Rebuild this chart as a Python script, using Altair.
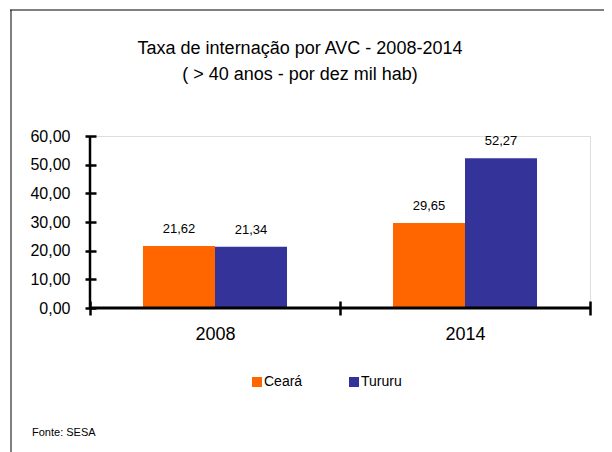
import altair as alt
import pandas as pd

years = ["2008", "2014"]
series = ["Ceará", "Tururu"]
ceara = [21.62, 29.65]
tururu = [21.34, 52.27]
colors = ["#FF6600", "#333399"]
y_ticks = [0, 10, 20, 30, 40, 50, 60]
title_lines = ["Taxa de internação por AVC - 2008-2014", "( > 40 anos - por dez mil hab)"]
source_note = "Fonte: SESA"

rows = []
for i, y in enumerate(years):
    rows.append({"ano": y, "serie": series[0], "valor": ceara[i]})
    rows.append({"ano": y, "serie": series[1], "valor": tururu[i]})
df = pd.DataFrame(rows)

FONT = "Liberation Sans, Arial, sans-serif"
W, H = 500, 172

yaxis = alt.Axis(values=y_ticks, grid=False, domain=False, tickSize=11, offset=-6,
                 tickWidth=2.5, tickColor="black", labelPadding=15,
                 labelOverlap=False, labelBound=False, labelFontSize=16, labelFont=FONT,
                 labelColor="black",
                 labelExpr="replace(format(datum.value, '.2f'), '.', ',')")
yscale = alt.Scale(domain=[0, 60], nice=False)

base = alt.Chart(df).encode(
    x=alt.X("ano:N", title=None,
            scale=alt.Scale(paddingInner=0, paddingOuter=0),
            axis=alt.Axis(labelAngle=0, domain=False, tickBand="extent", tickSize=14,
                          offset=-7, tickWidth=2.5, tickColor="black", labelPadding=10,
                          labelFontSize=18, labelFont=FONT, labelColor="black")),
    xOffset=alt.XOffset("serie:N", scale=alt.Scale(domain=series, paddingOuter=0.736, paddingInner=0)),
    y=alt.Y("valor:Q", title=None, scale=yscale, axis=yaxis),
)

bars = base.mark_bar().encode(
    color=alt.Color("serie:N", scale=alt.Scale(domain=series, range=colors),
                    legend=alt.Legend(title=None, orient="none", legendX=160, legendY=239,
                                      direction="horizontal", symbolType="square",
                                      symbolSize=100, symbolStrokeWidth=0, labelFontSize=14,
                                      labelFont=FONT, labelColor="black", labelOffset=0,
                                      columnPadding=44)),
)

labels = base.transform_calculate(
    lab="replace(format(datum.valor, '.2f'), '.', ',')"
).mark_text(font=FONT, fontSize=13, color="black", dy=-17, baseline="middle").encode(
    text="lab:N",
)

one = alt.Data(values=[{"k": 1}])

xdomain = alt.Chart(one).mark_rule(color="black", strokeWidth=3).encode(
    x=alt.value(0), x2=alt.value(W), y=alt.value(H)
)
ydomain = alt.Chart(one).mark_rule(color="black", strokeWidth=2.5).encode(
    x=alt.value(0), y=alt.value(0), y2=alt.value(H)
)
frame_left = alt.Chart(one).mark_rule(color="#7f7f7f", strokeWidth=2).encode(
    x=alt.value(-79), y=alt.value(-126), y2=alt.value(330)
)
frame_top = alt.Chart(one).mark_rule(color="black", strokeWidth=1).encode(
    x=alt.value(-80), x2=alt.value(530), y=alt.value(-126)
)
title1 = alt.Chart(one).mark_text(font=FONT, fontSize=18, color="black", baseline="middle").encode(
    x=alt.value(210), y=alt.value(-87), text=alt.value(title_lines[0])
)
title2 = alt.Chart(one).mark_text(font=FONT, fontSize=18, color="black", baseline="middle").encode(
    x=alt.value(210), y=alt.value(-61), text=alt.value(title_lines[1])
)
note = alt.Chart(one).mark_text(font=FONT, fontSize=11, color="black", align="left",
                                baseline="middle").encode(
    x=alt.value(-58), y=alt.value(297), text=alt.value(source_note)
)

chart = alt.layer(frame_left, frame_top, bars, labels, xdomain, ydomain, title1, title2, note).properties(
    width=W, height=H,
    autosize=alt.AutoSizeParams(type="none"),
    padding={"left": 82, "top": 128, "right": 14, "bottom": 144},
).configure_view(stroke=None).configure(background="white")

chart.save("out.html", embed_options={"renderer": "svg", "actions": False})
